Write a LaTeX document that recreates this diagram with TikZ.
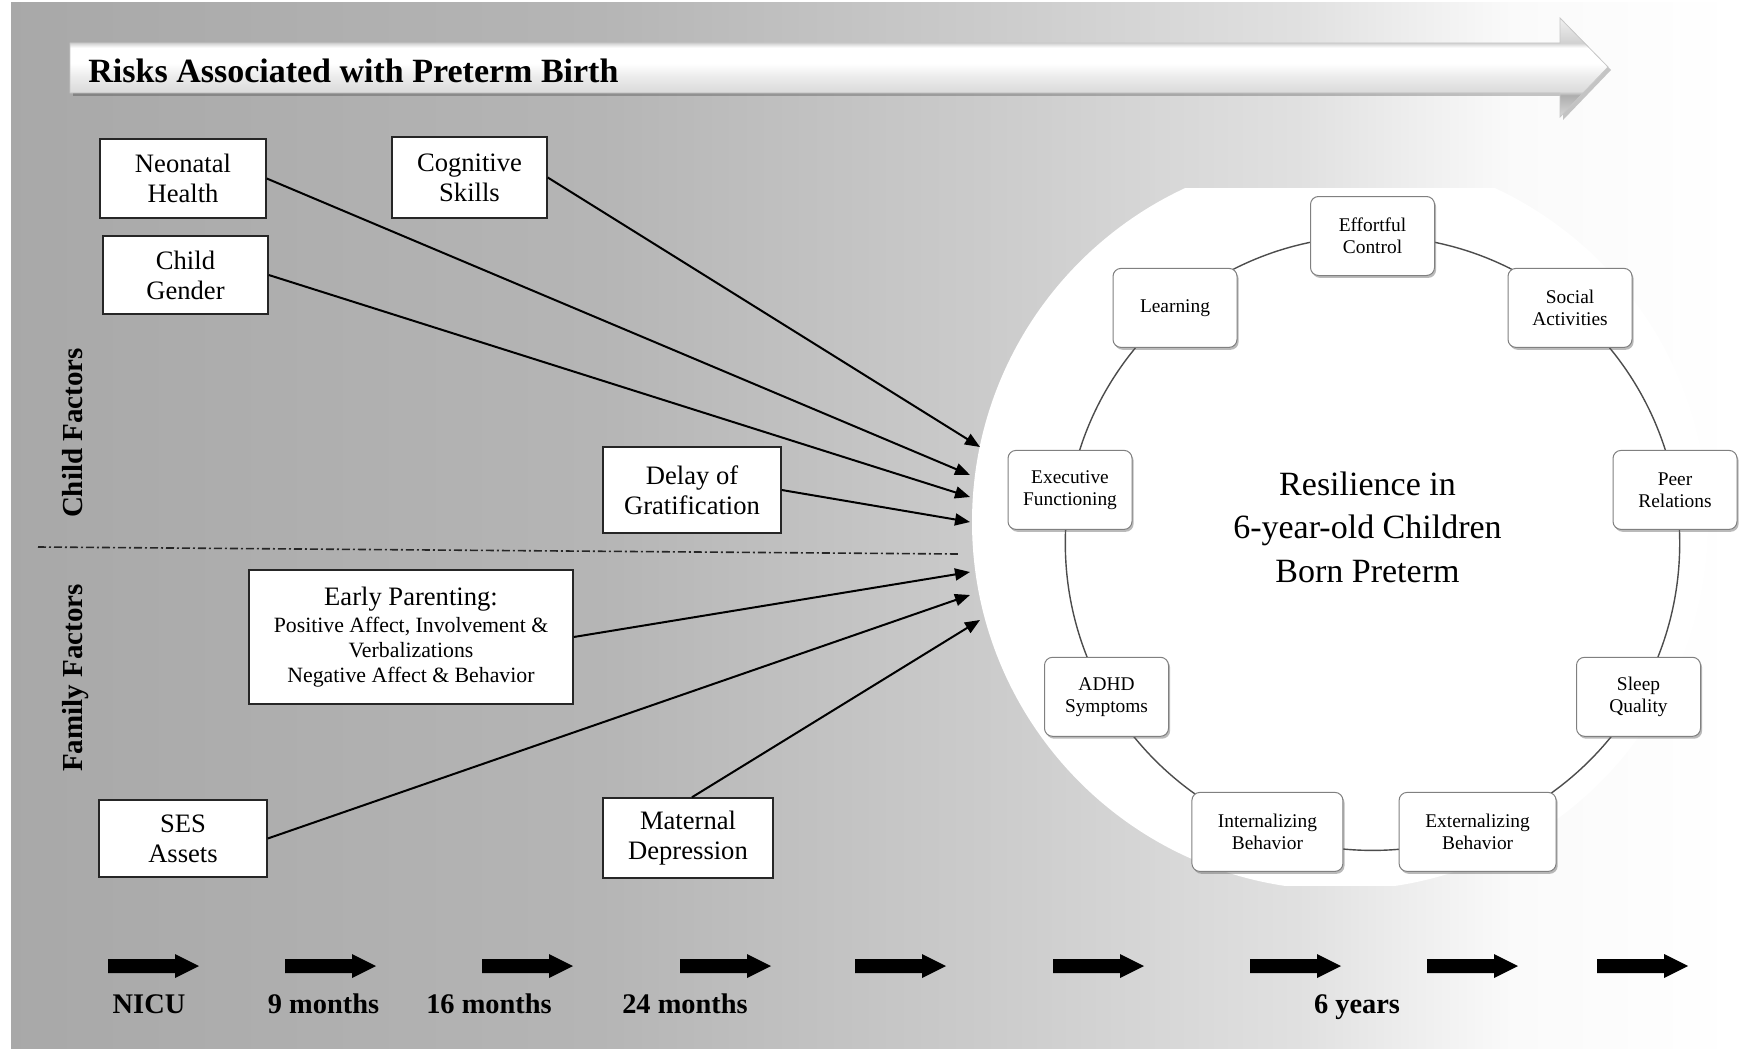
\documentclass[tikz,border=0pt]{standalone}
\usepackage{fontspec}
\setmainfont{Liberation Serif}
\usetikzlibrary{arrows.meta,shadows}
\pgfdeclarehorizontalshading{bgshade}{100bp}{color(0bp)=(black!34); color(25bp)=(black!34); color(42bp)=(black!29); color(53.6bp)=(black!20); color(62.3bp)=(black!12); color(68.4bp)=(black!2); color(75bp)=(white); color(100bp)=(white)}
\pgfdeclareverticalshading{bannershade}{100bp}{color(0bp)=(black!15); color(25bp)=(black!15); color(36bp)=(black!32); color(38bp)=(black!14); color(46bp)=(black!7); color(52bp)=(white); color(60bp)=(white); color(62.4bp)=(black!18); color(75bp)=(black!6); color(100bp)=(black!6)}
\begin{document}
\begin{tikzpicture}[x=0.5pt,y=-0.5pt,
  factorbox/.style={draw=black!85, line width=0.75pt, fill=white, inner sep=0pt, align=center,
    font=\fontsize{13.3}{15}\selectfont},
  ringbox/.style={draw=black!50, line width=0.5pt, fill=white, rounded corners=4pt,
    minimum width=62pt, minimum height=39.5pt, inner sep=0pt, align=center,
    font=\fontsize{9.7}{11}\selectfont,
    drop shadow={shadow xshift=0.8pt, shadow yshift=-1.2pt, opacity=0.45, fill=black!60}},
  conn/.style={line width=1pt, -{Triangle[length=7.5pt,width=6pt]}},
  sidelabel/.style={rotate=90, anchor=base, font=\bfseries\fontsize{14.5}{16}\selectfont},
  timelabel/.style={anchor=base, font=\bfseries\fontsize{14.2}{16}\selectfont},
  ringline/.style={draw=black!70, line width=0.7pt}]
\useasboundingbox (0,0) rectangle (1739,1054);
\fill[white] (0,0) rectangle (1739,1054);
\shade[shading=bgshade] (11,3) rectangle (1739,1048);
% white region
\begin{scope}
\clip (900,188) rectangle (1739,885);
\fill[white] (1340,522) circle (368);
\end{scope}
% banner arrow
\fill[black, opacity=0.22, xshift=1.5pt, yshift=-1.5pt] (70,43) -- (1560,43) -- (1560,18) -- (1608,67) -- (1560,117) -- (1560,93) -- (70,93) -- cycle;
\shade[shading=bannershade, draw=black!22, line width=0.4pt] (70,43) -- (1560,43) -- (1560,18) -- (1608,67) -- (1560,117) -- (1560,93) -- (70,93) -- cycle;
\node[anchor=base west, inner sep=0pt, font=\bfseries\fontsize{17}{20}\selectfont] (title) at (88,83) {Risks Associated with Preterm Birth};
% side labels and separator
\node[sidelabel] (childf) at (82,433) {Child Factors};
\node[sidelabel] (familyf) at (82,678) {Family Factors};
\draw[black!85, line width=0.8pt, dash pattern=on 4pt off 1.5pt on 1pt off 1.5pt] (38,547) -- (958,554);
% factor boxes
\node[factorbox, minimum width=83pt, minimum height=39.5pt] (neo) at (183,178.5) {Neonatal\\Health};
\node[factorbox, minimum width=77.5pt, minimum height=40.5pt] (cog) at (469.5,177.5) {Cognitive\\Skills};
\node[factorbox, minimum width=82.5pt, minimum height=39pt] (gen) at (185.5,275) {Child\\Gender};
\node[factorbox, minimum width=89pt, minimum height=43pt] (del) at (692,490) {Delay of\\Gratification};
\node[factorbox, minimum width=162pt, minimum height=67pt, font=\fontsize{10.9}{12.5}\selectfont] (par) at (411,637)
  {{\fontsize{13.3}{15}\selectfont Early Parenting:}\\[1pt]Positive Affect, Involvement \&\\Verbalizations\\Negative Affect \& Behavior};
\node[factorbox, minimum width=84pt, minimum height=38.5pt] (ses) at (183,838.5) {SES\\Assets};
\node[factorbox, minimum width=85pt, minimum height=40pt] (mat) at (688,838) {Maternal\\Depression};
% arrow targets
\coordinate (e1) at (980,447);
\coordinate (e2) at (970,475);
\coordinate (e3) at (970,497);
\coordinate (e4) at (970,522);
\coordinate (e5) at (970,572);
\coordinate (e6) at (970,595);
\coordinate (e7) at (980,620);
\draw[conn] (cog.east) -- (e1);
\draw[conn] (neo.east) -- (e2);
\draw[conn] (gen.east) -- (e3);
\draw[conn] (del.east) -- (e4);
\draw[conn] (par.east) -- (e5);
\draw[conn] (ses.east) -- (e6);
\draw[conn] ([xshift=2pt]mat.north) -- (e7);
% ring
\draw[ringline] (1372.5,543.2) circle (307.2);
\node[ringbox] (eff) at (1372.5,236.0) {Effortful\\Control};
\node[ringbox] (soc) at (1570.0,307.9) {Social\\Activities};
\node[ringbox] (peer) at (1675.0,489.9) {Peer\\Relations};
\node[ringbox] (sleep) at (1638.5,696.8) {Sleep\\Quality};
\node[ringbox, minimum width=78.5pt] (ext) at (1477.6,831.9) {Externalizing\\Behavior};
\node[ringbox, minimum width=75.5pt] (int) at (1267.4,831.9) {Internalizing\\Behavior};
\node[ringbox] (adhd) at (1106.5,696.8) {ADHD\\Symptoms};
\node[ringbox] (exec) at (1070.0,489.9) {Executive\\Functioning};
\node[ringbox] (learn) at (1175.0,307.9) {Learning};
\node[align=center, inner sep=0pt, font=\fontsize{17}{21.7}\selectfont] (res) at (1367.5,527)
  {Resilience in\\6-year-old Children\\Born Preterm};
% timeline arrows
\foreach \x in {108,285,482,680,855,1053,1250,1427,1597}
  \fill[black] (\x,959) -- (\x+67,959) -- (\x+67,954) -- (\x+91,966) -- (\x+67,978) -- (\x+67,973) -- (\x,973) -- cycle;
\node[timelabel] (t1) at (149,1013) {NICU};
\node[timelabel] (t2) at (323.5,1013) {9 months};
\node[timelabel] (t3) at (489,1013) {16 months};
\node[timelabel] (t4) at (685,1013) {24 months};
\node[timelabel] (t5) at (1357,1013) {6 years};
\end{tikzpicture}
\end{document}
